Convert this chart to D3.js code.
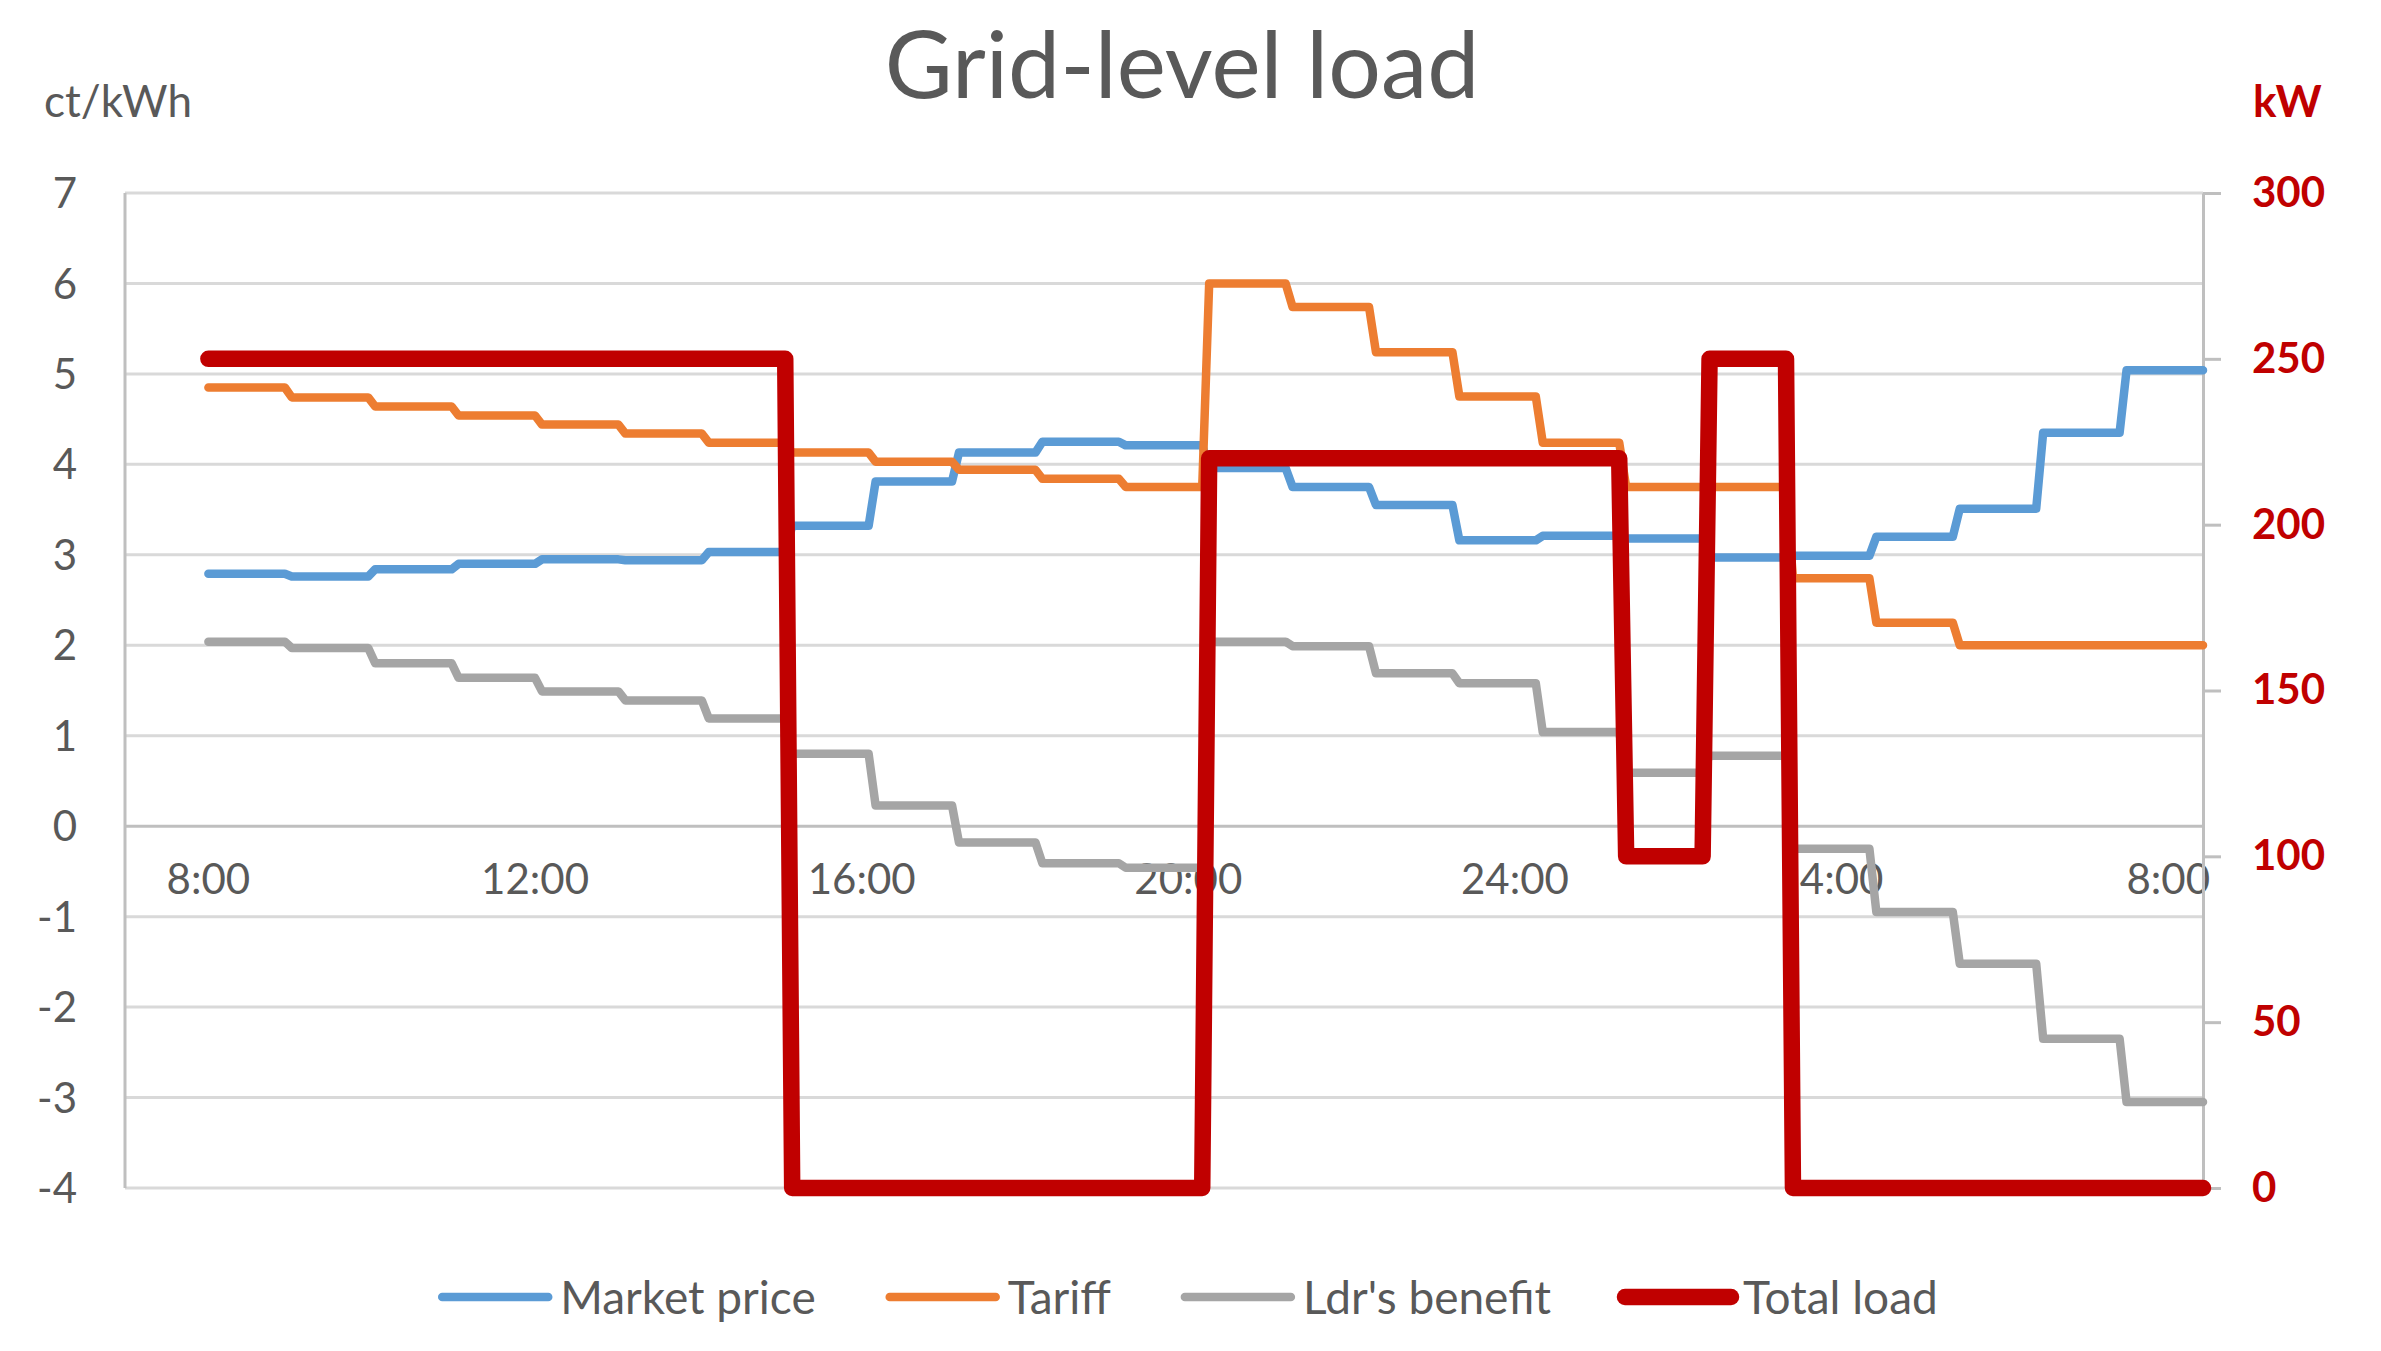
<!DOCTYPE html>
<html>
<head>
<meta charset="utf-8">
<script src="https://cdn.jsdelivr.net/npm/d3@7/dist/d3.min.js"></script>
<style>
  body { margin: 0; background: #fff; }
  svg { display: block; font-family: Lato, "Open Sans", sans-serif; }
  .grid line { stroke: #d9d9d9; stroke-width: 3; }
  .tick-label { fill: #595959; font-size: 42px; }
  .series { fill: none; stroke-linejoin: round; stroke-linecap: round; }
</style>
</head>
<body>
<div id="chart"></div>
<script>
// One value per hour, 8:00 through 7:00 next morning (ct/kWh)
const marketPrice = [2.79, 2.76, 2.84, 2.90, 2.95, 2.94, 3.03, 3.32, 3.81, 4.13, 4.25, 4.21,
                     3.96, 3.75, 3.55, 3.16, 3.21, 3.18, 2.97, 2.99, 3.20, 3.51, 4.35, 5.04];
const tariff      = [4.85, 4.74, 4.64, 4.54, 4.44, 4.34, 4.24, 4.13, 4.03, 3.94, 3.84, 3.75,
                     6.00, 5.74, 5.24, 4.75, 4.24, 3.75, 3.75, 2.74, 2.25, 2.00, 2.00, 2.00];
const ldrBenefit  = [2.04, 1.97, 1.80, 1.64, 1.49, 1.39, 1.19, 0.80, 0.23, -0.18, -0.41, -0.46,
                     2.04, 1.99, 1.69, 1.58, 1.04, 0.59, 0.78, -0.25, -0.95, -1.52, -2.35, -3.05];
// kW, secondary axis
const totalLoad   = [250, 250, 250, 250, 250, 250, 250, 0, 0, 0, 0, 0,
                     220, 220, 220, 220, 220, 100, 250, 0, 0, 0, 0, 0];

// category axis: 5-minute slots, label every 47 slots (as the spreadsheet did)
const tickSlots  = [0, 47, 94, 141, 188, 235, 282];
const tickLabels = ['8:00', '12:00', '16:00', '20:00', '24:00', '4:00', '8:00'];
const priceTicks = [-4, -3, -2, -1, 0, 1, 2, 3, 4, 5, 6, 7];
const loadTicks  = [0, 50, 100, 150, 200, 250, 300];

const seriesInfo = [
  { name: 'Market price',  values: marketPrice, color: '#5b9bd5', width: 8.5, axis: 'left' },
  { name: 'Tariff',        values: tariff,      color: '#ed7d31', width: 8.5, axis: 'left' },
  { name: "Ldr's benefit", values: ldrBenefit,  color: '#a5a5a5', width: 8.5, axis: 'left' },
  { name: 'Total load',    values: totalLoad,   color: '#c00000', width: 16.5, axis: 'right' }
];

const W = 2381, H = 1351;
const margin = { top: 193, left: 125, right: 178, bottom: 163 };
const plotW = W - margin.left - margin.right,
      plotH = H - margin.top - margin.bottom;

const svg = d3.select('#chart').append('svg')
    .attr('width', W).attr('height', H);
svg.append('rect').attr('width', W).attr('height', H).attr('fill', '#fff');

const x = d3.scaleLinear().domain([-12, 287]).range([0, plotW]);
const yL = d3.scaleLinear().domain([-4, 7]).range([plotH, 0]);
const yR = d3.scaleLinear().domain([0, 300]).range([plotH, 0]);

const g = svg.append('g')
    .attr('transform', 'translate(' + margin.left + ',' + margin.top + ')');

// gridlines
g.append('g').attr('class', 'grid')
  .selectAll('line').data(priceTicks).join('line')
    .attr('x1', 0).attr('x2', plotW)
    .attr('y1', d => yL(d)).attr('y2', d => yL(d))
    .style('stroke', d => d === 0 ? '#bfbfbf' : null);

// left value axis (line + labels only)
g.append('line')
    .attr('x1', 0).attr('x2', 0).attr('y1', 0).attr('y2', plotH)
    .attr('stroke', '#bfbfbf').attr('stroke-width', 3);
g.append('g').selectAll('text').data(priceTicks).join('text')
    .attr('class', 'tick-label')
    .attr('x', -48).attr('y', d => yL(d))
    .attr('dy', '0.36em')
    .attr('text-anchor', 'end')
    .text(d => d);

// category labels sit just under the zero line
g.append('g').selectAll('text').data(tickSlots).join('text')
    .attr('class', 'tick-label')
    .attr('x', d => x(d)).attr('y', yL(0) + 68)
    .attr('text-anchor', 'middle')
    .text((d, i) => tickLabels[i]);

// right axis
const rAxis = g.append('g')
    .attr('transform', 'translate(' + plotW + ',0)')
    .call(d3.axisRight(yR).tickValues(loadTicks).tickSize(18).tickPadding(31).tickSizeOuter(0));
rAxis.select('.domain').attr('stroke', '#bfbfbf').attr('stroke-width', 3);
rAxis.selectAll('.tick line').attr('stroke', '#bfbfbf').attr('stroke-width', 3);
rAxis.selectAll('.tick text')
    .attr('fill', '#c00000').style('font-size', '42px').style('font-weight', 700)
    .style('font-family', 'Lato, sans-serif');

// step lines: each hour holds its value over 12 slots
function stepPoints(values) {
  return values.flatMap((v, i) => [[i * 12, v], [i * 12 + 11, v]]);
}

seriesInfo.forEach(s => {
  const y = s.axis === 'left' ? yL : yR;
  g.append('path')
      .datum(stepPoints(s.values))
      .attr('class', 'series')
      .attr('stroke', s.color)
      .attr('stroke-width', s.width)
      .attr('d', d3.line().x(d => x(d[0])).y(d => y(d[1])));
});

// unit labels
svg.append('text')
    .attr('x', 44).attr('y', 117)
    .attr('fill', '#595959').style('font-size', '44px')
    .text('ct/kWh');
svg.append('text')
    .attr('x', 2253).attr('y', 117)
    .attr('fill', '#c00000').style('font-size', '44px').style('font-weight', 700)
    .text('kW');

// title
svg.append('text')
    .attr('x', 1182).attr('y', 98)
    .attr('text-anchor', 'middle')
    .attr('fill', '#595959').style('font-size', '93px')
    .text('Grid-level load');

// legend
const legend = svg.append('g').attr('transform', 'translate(0,1297)');
const items = legend.selectAll('g').data(seriesInfo).join('g');
items.append('line')
    .attr('x1', 0).attr('x2', 106).attr('y1', 0).attr('y2', 0)
    .attr('stroke', d => d.color)
    .attr('stroke-width', d => d.width)
    .attr('stroke-linecap', 'round');
items.append('text')
    .attr('x', 118).attr('dy', '0.36em')
    .attr('fill', '#595959').style('font-size', '46px')
    .text(d => d.name);

let offset = 0;
const starts = [];
items.each(function () {
  const w = 118 + d3.select(this).select('text').node().getComputedTextLength();
  starts.push(offset);
  offset += w + 74;
});
const total = offset - 74;
items.attr('transform', (d, i) => 'translate(' + (1190 - total / 2 + starts[i]) + ',0)');
</script>
</body>
</html>
